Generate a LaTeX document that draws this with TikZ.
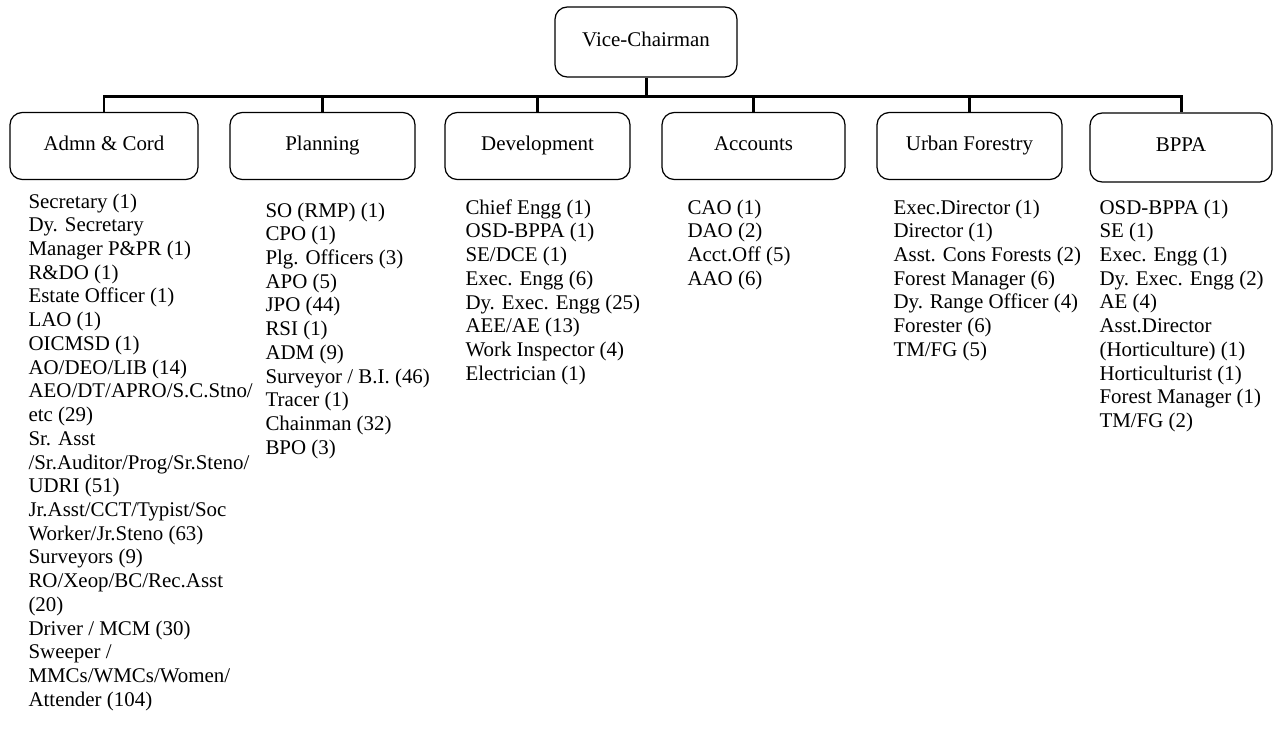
\documentclass[tikz,border=0pt]{standalone}
\usepackage{fontspec}
\setmainfont{Liberation Serif}
\usepackage{tikz}
\usetikzlibrary{positioning}
\tikzset{
  org/.style={
    font=\fontsize{11.9}{13.5}\selectfont,
    line width=0.6pt
  },
  unitbox/.style={                 % department box
    draw, line width=0.7pt,
    rounded corners=7pt,
    inner sep=2pt,
    text height=0.7em, text depth=0.22em,
    minimum width=3.7cm,
    minimum height=1.34cm
  },
  stafflist/.style={               % posts under a department
    anchor=north west,
    inner sep=0pt,
    align=left
  },
  busline/.style={line width=1.7pt}
}

\begin{document}
\begin{tikzpicture}[org]
\useasboundingbox (0,0) rectangle (25.46,-14.74);

% Root
\node[unitbox, minimum width=3.64cm, minimum height=1.4cm] (vc) at (12.92,-0.84) {Vice-Chairman};
\coordinate (bus) at (0,-1.92);

% Departments
\node[unitbox, minimum width=3.76cm] (admn) at ( 2.08,-2.92) {Admn \& Cord};
\node[unitbox] (plan) at ( 6.45,-2.92) {Planning};
\node[unitbox] (dev)  at (10.75,-2.92) {Development};
\node[unitbox, minimum width=3.66cm] (acc)  at (15.07,-2.92) {Accounts};
\node[unitbox] (urb)  at (19.39,-2.92) {Urban Forestry};
\node[unitbox, minimum width=3.64cm, minimum height=1.38cm] (bppa) at (23.62,-2.95) {BPPA};

% Connectors
\draw[busline] (vc.south) -- (vc.south |- bus);
\draw[busline] (admn.north) -- (admn.north |- bus) -- (bppa.north |- bus) -- (bppa.north);
\foreach \d in {plan,dev,acc,urb}
  \draw[busline] (\d.north) -- (\d.north |- bus);

% Staff lists
\node[stafflist] (admnlist) at (0.56,-3.86) {Secretary (1)\\Dy. Secretary\\Manager P\&PR (1)\\R\&DO (1)\\Estate Officer (1)\\LAO (1)\\OICMSD (1)\\AO/DEO/LIB (14)\\AEO/DT/APRO/S.C.Stno/\\etc (29)\\Sr. Asst\\/Sr.Auditor/Prog/Sr.Steno/\\UDRI (51)\\Jr.Asst/CCT/Typist/Soc\\Worker/Jr.Steno (63)\\Surveyors (9)\\RO/Xeop/BC/Rec.Asst\\(20)\\Driver / MCM (30)\\Sweeper /\\MMCs/WMCs/Women/\\Attender (104)};
\node[stafflist] (planlist) at (5.30,-4.04) {SO (RMP) (1)\\CPO (1)\\Plg. Officers (3)\\APO (5)\\JPO (44)\\RSI (1)\\ADM (9)\\Surveyor / B.I. (46)\\Tracer (1)\\Chainman (32)\\BPO (3)};
\node[stafflist] (devlist) at (9.30,-3.98) {Chief Engg (1)\\OSD-BPPA (1)\\SE/DCE (1)\\Exec. Engg (6)\\Dy. Exec. Engg (25)\\AEE/AE (13)\\Work Inspector (4)\\Electrician (1)};
\node[stafflist] (acclist) at (13.74,-3.98) {CAO (1)\\DAO (2)\\Acct.Off (5)\\AAO (6)};
\node[stafflist] (urblist) at (17.86,-3.98) {Exec.Director (1)\\Director (1)\\Asst. Cons Forests (2)\\Forest Manager (6)\\Dy. Range Officer (4)\\Forester (6)\\TM/FG (5)};
\node[stafflist] (bppalist) at (21.98,-3.98) {OSD-BPPA (1)\\SE (1)\\Exec. Engg (1)\\Dy. Exec. Engg (2)\\AE (4)\\Asst.Director\\(Horticulture) (1)\\Horticulturist (1)\\Forest Manager (1)\\TM/FG (2)};

\end{tikzpicture}
\end{document}
